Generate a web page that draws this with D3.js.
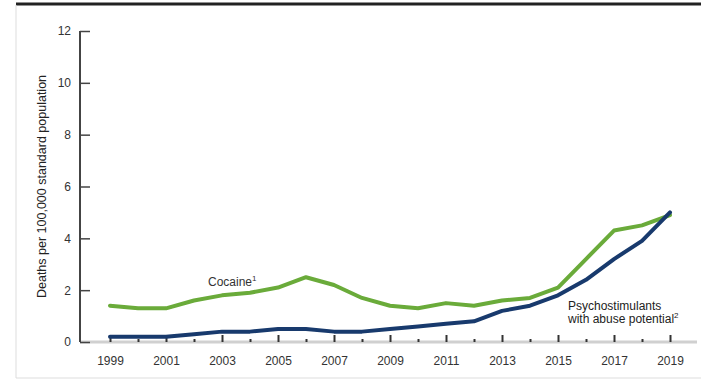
<!DOCTYPE html>
<html>
<head>
<meta charset="utf-8">
<script src="https://cdn.jsdelivr.net/npm/d3@7"></script>
<style>
  html, body { margin: 0; padding: 0; background: #fff; }
  svg { display: block; font-family: "Liberation Sans", Arial, sans-serif; }
</style>
</head>
<body>
<svg id="chart" width="701" height="380"></svg>
<script>
// Age-adjusted overdose death rates by year
const years = [1999, 2000, 2001, 2002, 2003, 2004, 2005, 2006, 2007, 2008, 2009,
               2010, 2011, 2012, 2013, 2014, 2015, 2016, 2017, 2018, 2019];
const cocaine = [1.4, 1.3, 1.3, 1.6, 1.8, 1.9, 2.1, 2.5, 2.2, 1.7, 1.4,
                 1.3, 1.5, 1.4, 1.6, 1.7, 2.1, 3.2, 4.3, 4.5, 4.9];
const psychostimulants = [0.2, 0.2, 0.2, 0.3, 0.4, 0.4, 0.5, 0.5, 0.4, 0.4, 0.5,
                          0.6, 0.7, 0.8, 1.2, 1.4, 1.8, 2.4, 3.2, 3.9, 5.0];
const yTicks = [0, 2, 4, 6, 8, 10, 12];
const xLabelYears = [1999, 2001, 2003, 2005, 2007, 2009, 2011, 2013, 2015, 2017, 2019];
const yTitle = "Deaths per 100,000 standard population";

const svg = d3.select("#chart");
const W = 701, H = 380;

// Frame: heavy rule on top, light border on left and bottom
svg.append("line").attr("x1", 16).attr("x2", W).attr("y1", 4).attr("y2", 4)
  .attr("stroke", "#222").attr("stroke-width", 3);
svg.append("line").attr("x1", 16).attr("x2", 16).attr("y1", 5).attr("y2", 378)
  .attr("stroke", "#ddd").attr("stroke-width", 1);
svg.append("line").attr("x1", 16).attr("x2", W).attr("y1", 378).attr("y2", 378)
  .attr("stroke", "#ddd").attr("stroke-width", 1);

const axisX = 80;
const x = d3.scaleLinear().domain([1999, 2019]).range([110, 670]);
const y = d3.scaleLinear().domain([0, 12]).range([342, 31]);

// X baseline (light gray) with small dark ticks pointing up
svg.append("line").attr("x1", axisX).attr("x2", 697)
  .attr("y1", y(0)).attr("y2", y(0))
  .attr("stroke", "#d0d0d0").attr("stroke-width", 3);

const xAxis = d3.axisBottom(x)
  .tickValues(years)
  .tickSize(0)
  .tickFormat(d => xLabelYears.includes(d) ? String(d) : "");
const gx = svg.append("g").attr("transform", `translate(0,${y(0)})`).call(xAxis);
gx.select(".domain").remove();
gx.selectAll(".tick line").remove();
gx.selectAll(".tick").append("line")
  .attr("x1", 0).attr("x2", 0)
  .attr("y1", d => xLabelYears.includes(d) ? -7 : -3)
  .attr("y2", 0)
  .attr("stroke", "#333").attr("stroke-width", 2);
gx.selectAll(".tick text")
  .attr("y", 19).attr("dy", "0.32em")
  .attr("font-size", 12).attr("fill", "#333")
  .attr("font-family", "Liberation Sans, Arial, sans-serif");

// Y axis with ticks pointing inward
const yAxis = d3.axisRight(y).tickValues(yTicks).tickSize(10).tickFormat(d3.format("d"));
const gy = svg.append("g").attr("transform", `translate(${axisX},0)`).call(yAxis);
gy.select(".domain").attr("d", `M0,${y(12)}V${y(0)}`).attr("stroke", "#444").attr("stroke-width", 2);
gy.selectAll(".tick line").attr("stroke", "#444").attr("stroke-width", 1.5);
gy.selectAll(".tick text")
  .attr("x", -9).attr("text-anchor", "end")
  .attr("font-size", 12).attr("fill", "#333")
  .attr("font-family", "Liberation Sans, Arial, sans-serif");

// Y title
svg.append("text")
  .attr("transform", `translate(42,${(y(0) + y(12)) / 2}) rotate(-90)`)
  .attr("text-anchor", "middle").attr("dy", "0.35em")
  .attr("font-size", 12.5).attr("fill", "#222")
  .text(yTitle);

// Series lines
const line = d3.line().x((d, i) => x(years[i])).y(d => y(d));
svg.append("path").datum(cocaine).attr("d", line)
  .attr("fill", "none").attr("stroke", "#6aab3a").attr("stroke-width", 4)
  .attr("stroke-linejoin", "round").attr("stroke-linecap", "round");
svg.append("path").datum(psychostimulants).attr("d", line)
  .attr("fill", "none").attr("stroke", "#183a6d").attr("stroke-width", 4)
  .attr("stroke-linejoin", "round").attr("stroke-linecap", "round");

// Series labels
const cl = svg.append("text").attr("x", 208).attr("y", 286)
  .attr("font-size", 12).attr("fill", "#333");
cl.append("tspan").text("Cocaine");
cl.append("tspan").attr("font-size", 8).attr("dy", -5).text("1");

const pl = svg.append("text").attr("font-size", 12).attr("fill", "#222");
pl.append("tspan").attr("x", 568).attr("y", 310).text("Psychostimulants");
pl.append("tspan").attr("x", 568).attr("y", 323).text("with abuse potential");
pl.append("tspan").attr("font-size", 8).attr("dy", -5).text("2");
</script>
</body>
</html>
